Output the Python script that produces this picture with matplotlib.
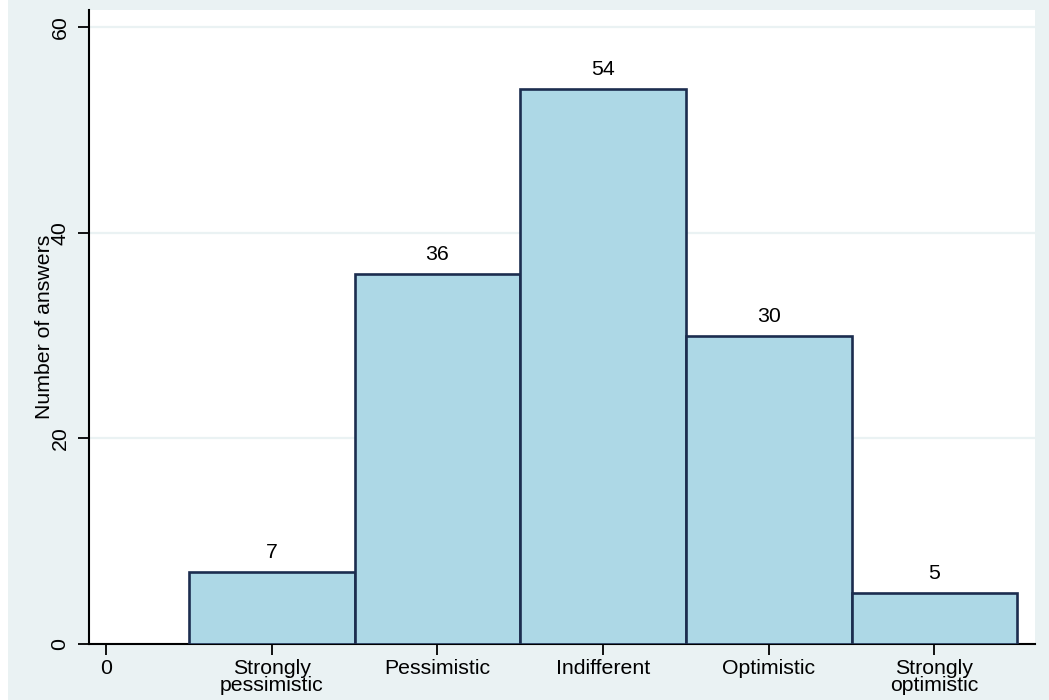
import numpy as np
import matplotlib.pyplot as plt
from matplotlib.patches import Rectangle

plt.rcParams['font.family'] = ['Liberation Sans', 'DejaVu Sans']

# --- data ---
categories = ["Strongly\npessimistic", "Pessimistic", "Indifferent", "Optimistic", "Strongly\noptimistic"]
counts = [7, 36, 54, 30, 5]
positions = [1, 2, 3, 4, 5]
tick_pos = [0] + positions
tick_labels = ["0"] + categories
y_ticks = [0, 20, 40, 60]

bg = "#EAF2F3"
bar_fill = "#ADD8E6"
bar_edge = "#1C2D4F"
fs = 15.3

fig = plt.figure(figsize=(10.49, 7.0), dpi=100, facecolor=bg)
# thin white strip down the left edge, as in the exported graph
fig.patches.append(Rectangle((0, 0), 8/1049, 1, transform=fig.transFigure,
                             facecolor="white", edgecolor="none", zorder=-1))

ax = fig.add_axes([89/1049, 1 - 644/700, (1035 - 89)/1049, (644 - 10)/700])
ax.set_facecolor("white")

bars = ax.bar(positions, counts, width=1.0, color=bar_fill, edgecolor=bar_edge,
              linewidth=1.9, zorder=3)
ax.bar_label(bars, labels=[str(c) for c in counts], padding=7, fontsize=fs)

ax.set_xlim(-0.103, 5.607)
ax.set_ylim(0, 61.7)

# gridlines
ax.set_yticks(y_ticks)
ax.yaxis.grid(True, color=bg, linewidth=1.6, zorder=0)
ax.set_axisbelow(True)

ax.set_xticks(tick_pos)
ax.set_xticklabels(tick_labels, fontsize=fs, linespacing=0.88)
ax.tick_params(axis="x", length=8, width=1.3, pad=3, color="black")
ax.tick_params(axis="y", length=8, width=1.3, pad=6, labelrotation=90, labelsize=fs)
for lbl in ax.get_yticklabels():
    lbl.set_va("center")

for side in ["top", "right"]:
    ax.spines[side].set_visible(False)
for side in ["left", "bottom"]:
    ax.spines[side].set_linewidth(1.5)
    ax.spines[side].set_color("black")

fig.text(45/1049, 1 - 327/700, "Number of answers", rotation=90,
         ha="center", va="center", fontsize=fs)

fig.savefig("out.png", dpi=100, facecolor=bg)
